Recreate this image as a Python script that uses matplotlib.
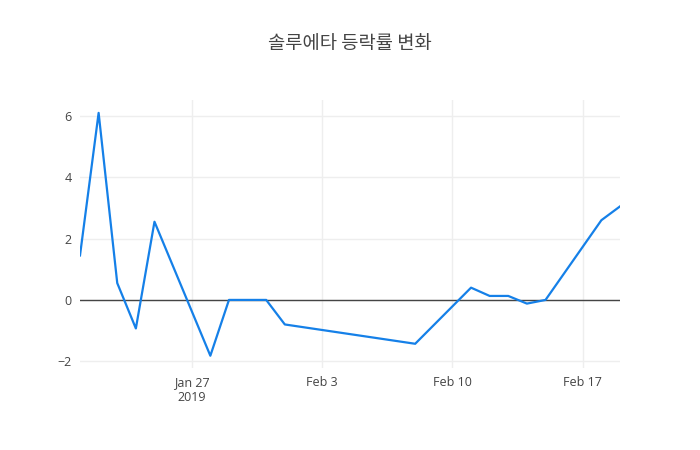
import numpy as np
import pandas as pd
import matplotlib
matplotlib.use("Agg")
import matplotlib.pyplot as plt
import matplotlib.dates as mdates

# Daily change rate (%)
dates = ["2019-01-21", "2019-01-22", "2019-01-23", "2019-01-24", "2019-01-25",
         "2019-01-28", "2019-01-29", "2019-01-30", "2019-01-31", "2019-02-01",
         "2019-02-08", "2019-02-11", "2019-02-12", "2019-02-13", "2019-02-14",
         "2019-02-15", "2019-02-18", "2019-02-19"]
rates = [1.45, 6.1, 0.55, -0.93, 2.55,
         -1.82, 0.0, 0.0, 0.0, -0.8,
         -1.43, 0.4, 0.13, 0.13, -0.12,
         0.0, 2.6, 3.05]
title = "솔루에타 등락률 변화"

x = pd.to_datetime(dates)

fig = plt.figure(figsize=(7, 4.5), dpi=100)
ax = fig.add_axes([80 / 700, 1 - 368 / 450, 540 / 700, 268 / 450])

ax.plot(x, rates, color="#1580e8", linewidth=1.6, zorder=3)
ax.axhline(0, color="#444444", linewidth=1, zorder=2)

ax.set_xlim(x[0], x[-1])
ax.set_ylim(-2.22, 6.52)
ax.set_yticks([-2, 0, 2, 4, 6])
ax.set_yticklabels(["−2", "0", "2", "4", "6"])

ticks = pd.to_datetime(["2019-01-27", "2019-02-03", "2019-02-10", "2019-02-17"])
ax.set_xticks(ticks)
ax.set_xticklabels(["Jan 27\n2019", "Feb 3", "Feb 10", "Feb 17"])

ax.grid(True, color="#eeeeee", linewidth=1, zorder=0)
for s in ax.spines.values():
    s.set_visible(False)
ax.tick_params(length=0, labelsize=9, labelcolor="#444444", pad=6)
for lab in ax.get_xticklabels() + ax.get_yticklabels():
    lab.set_family(["Open Sans", "DejaVu Sans"])

fig.text(350 / 700, 1 - 44 / 450, title, ha="center", va="center",
         fontsize=13.5, color="#444444", family=["Noto Sans CJK KR", "DejaVu Sans"])

fig.savefig("out.png", dpi=100)
